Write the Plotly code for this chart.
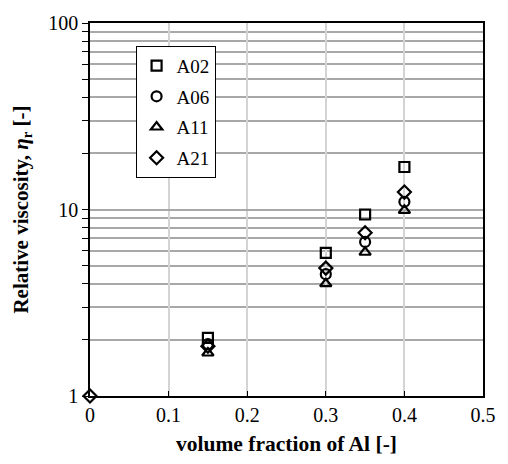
import plotly.graph_objects as go

x_vals = [0, 0.15, 0.30, 0.35, 0.40]
a02 = [None, 2.05, 5.85, 9.4, 16.9]
a06 = [None, 1.90, 4.5, 6.7, 11.0]
a11 = [None, 1.70, 4.0, 5.9, 9.9]
a21 = [1.0, 1.85, 4.85, 7.5, 12.4]

series = [("A02", a02, "square-open"), ("A06", a06, "circle-open"),
          ("A11", a11, "triangle-up-open"), ("A21", a21, "diamond-open")]

fig = go.Figure()
for name, vals, sym in series:
    fig.add_trace(go.Scatter(x=x_vals, y=vals, mode="markers", name=name,
                             legendgroup=name, cliponaxis=False,
                             marker=dict(symbol=sym, size=10, color="black",
                                         line=dict(color="black", width=2.2))))

font = "Liberation Serif, Times New Roman, serif"
minor_y = [v * d for d in (1, 10) for v in range(2, 10)]
fig.update_layout(
    width=508, height=464,
    margin=dict(l=90, r=14, t=20, b=68),
    paper_bgcolor="white", plot_bgcolor="white",
    font=dict(family=font, size=20, color="black"),
    showlegend=True,
    legend=dict(x=0.116, y=0.939, xanchor="left", yanchor="top",
                bgcolor="white", bordercolor="black", borderwidth=1,
                font=dict(size=19, family=font), tracegroupgap=3,
                itemwidth=30),
    xaxis=dict(range=[0, 0.5], dtick=0.1, tick0=0,
               showgrid=True, gridcolor="#d4d4d4", gridwidth=1.5,
               showline=True, linecolor="black", linewidth=1.5, mirror=True,
               ticks="inside", ticklen=5, tickcolor="black",
               zeroline=False,
               title=dict(text="<b>volume fraction of Al [-]</b>", font=dict(size=21.5), standoff=11),
               tickfont=dict(size=20)),
    yaxis=dict(type="log", range=[0, 2], tickvals=[1, 10, 100],
               ticktext=["1", "10", "100"],
               showgrid=True, gridcolor="#a8a8a8", gridwidth=1.5,
               showline=True, linecolor="black", linewidth=1.5, mirror=True,
               ticks="outside", ticklen=6, tickcolor="black",
               minor=dict(tickvals=minor_y, showgrid=True, gridcolor="#a8a8a8",
                          gridwidth=1.5, ticks="outside", ticklen=6, tickcolor="black"),
               title=dict(text="<b>Relative viscosity, <i>η</i><sub>r</sub> [-]</b>",
                          font=dict(size=21), standoff=14),
               tickfont=dict(size=20)),
)
fig.write_html("out.html")
